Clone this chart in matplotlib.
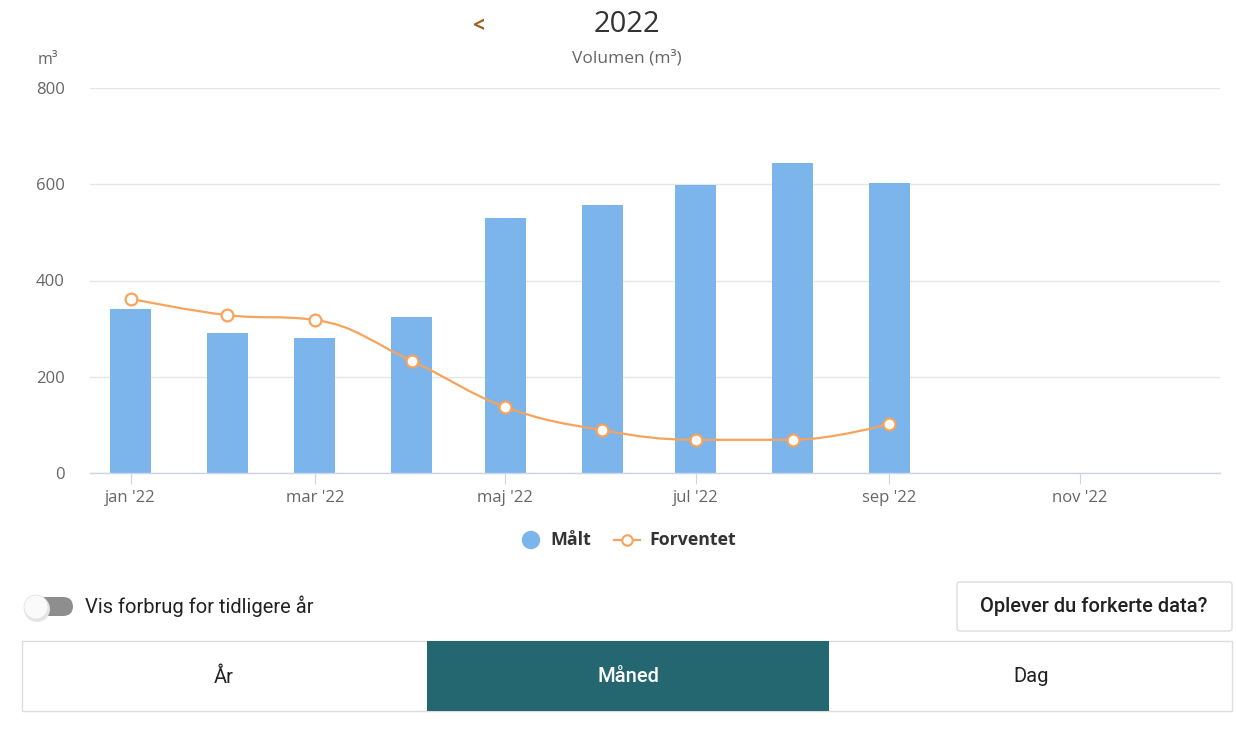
import numpy as np
import matplotlib
matplotlib.use("Agg")
import matplotlib.pyplot as plt
import matplotlib.dates as mdates
from matplotlib.path import Path
from matplotlib.patches import PathPatch, FancyBboxPatch, Rectangle, Ellipse
from matplotlib.lines import Line2D
import datetime as dt

# ---- data ----
months = ["2022-01-01", "2022-02-01", "2022-03-01", "2022-04-01", "2022-05-01",
          "2022-06-01", "2022-07-01", "2022-08-01", "2022-09-01"]
maalt = [341, 291, 281, 324, 530, 557, 599, 644, 603]
forventet = [362, 328, 318, 233, 137, 89, 69, 69, 102]
tick_dates = ["2022-01-01", "2022-03-01", "2022-05-01", "2022-07-01", "2022-09-01", "2022-11-01"]
tick_labels = ["jan '22", "mar '22", "maj '22", "jul '22", "sep '22", "nov '22"]
yticks = [0, 200, 400, 600, 800]

W, H = 1236, 733
fig = plt.figure(figsize=(W / 100, H / 100), dpi=100)
fig.patch.set_facecolor("white")

def px(x, y):
    return x / W, 1 - y / H

def circ(x, y, r, **kw):
    return Ellipse(px(x, y), 2 * r / W, 2 * r / H, transform=fig.transFigure, **kw)

ax_l, ax_r, ax_t, ax_b = 90, 1220, 88, 473
ax = fig.add_axes([ax_l / W, 1 - ax_b / H, (ax_r - ax_l) / W, (ax_b - ax_t) / H])

xd = mdates.date2num([dt.date.fromisoformat(m) for m in months])
tx = mdates.date2num([dt.date.fromisoformat(m) for m in tick_dates])

CH = "#7cb5ec"
CL = "#f7a35c"
ax.bar(xd, maalt, width=13.1, color=CH, zorder=2)

# Highcharts-style spline
def spline_path(xs, ys, smoothing=1.5):
    n = len(xs)
    denom = smoothing + 1
    right = [None] * n
    verts = [(xs[0], ys[0])]
    codes = [Path.MOVETO]
    for i in range(1, n):
        px_, py_ = xs[i], ys[i]
        lx, ly = xs[i - 1], ys[i - 1]
        lcx, lcy = px_, py_
        if i < n - 1:
            nx, ny = xs[i + 1], ys[i + 1]
            lcx = (smoothing * px_ + lx) / denom
            lcy = (smoothing * py_ + ly) / denom
            rcx = (smoothing * px_ + nx) / denom
            rcy = (smoothing * py_ + ny) / denom
            corr = 0
            if rcx != lcx:
                corr = (rcy - lcy) * (rcx - px_) / (rcx - lcx) + py_ - rcy
            lcy += corr
            rcy += corr
            if lcy > ly and lcy > py_:
                lcy = max(ly, py_); rcy = 2 * py_ - lcy
            elif lcy < ly and lcy < py_:
                lcy = min(ly, py_); rcy = 2 * py_ - lcy
            if rcy > ny and rcy > py_:
                rcy = max(ny, py_); lcy = 2 * py_ - rcy
            elif rcy < ny and rcy < py_:
                rcy = min(ny, py_); lcy = 2 * py_ - rcy
            right[i] = (rcx, rcy)
        c1 = right[i - 1] if right[i - 1] is not None else (lx, ly)
        verts += [c1, (lcx, lcy), (px_, py_)]
        codes += [Path.CURVE4] * 3
    return Path(verts, codes)

ax.add_patch(PathPatch(spline_path(list(xd), forventet), fill=False, edgecolor=CL, lw=1.6, zorder=3))
ax.plot(xd, forventet, ls="none", marker="o", ms=8.5, mfc="white", mec=CL, mew=1.6, zorder=4)

x0 = mdates.date2num(dt.date(2021, 12, 19))
ax.set_xlim(x0, x0 + (ax_r - ax_l) / 3.123)
ax.set_ylim(0, 800)
ax.set_yticks(yticks)
ax.set_yticklabels([str(v) for v in yticks])
ax.set_xticks(tx)
ax.set_xticklabels(tick_labels)
ax.grid(axis="y", color="#e6e6e6", lw=1, zorder=0)
for s in ["top", "right", "left"]:
    ax.spines[s].set_visible(False)
ax.spines["bottom"].set_color("#ccd6eb")
ax.spines["bottom"].set_linewidth(1)
ax.tick_params(axis="y", length=0, pad=18, labelsize=12, labelcolor="#666666")
ax.tick_params(axis="x", length=8, color="#ccd6eb", pad=4, labelsize=12, labelcolor="#666666")
for t in ax.get_yticklabels() + ax.get_xticklabels():
    t.set_fontfamily("Open Sans")
ax.set_axisbelow(True)

# titles
fig.text(*px(478, 27), "<", ha="center", va="center", fontsize=15, color="#a0601e", fontfamily="Open Sans", fontweight="bold")
fig.text(*px(627, 24), "2022", ha="center", va="center", fontsize=21, color="#333333", fontfamily="Open Sans")
fig.text(*px(627, 58), "Volumen (m³)", ha="center", va="center", fontsize=12.5, color="#666666", fontfamily="Open Sans")
fig.text(*px(48, 60), "m³", ha="center", va="center", fontsize=11.5, color="#666666", fontfamily="Open Sans")

# legend
fig.patches.append(circ(531, 540, 8.5, color=CH))
fig.text(*px(550, 540), "Målt", ha="left", va="center", fontsize=12.8, fontweight="bold", color="#333333", fontfamily="Open Sans")
fig.lines.append(Line2D([px(614, 0)[0], px(640, 0)[0]], [px(0, 540)[1]] * 2, transform=fig.transFigure, color=CL, lw=1.6))
fig.lines.append(Line2D([px(627, 0)[0]], [px(0, 540)[1]], transform=fig.transFigure, marker="o", ms=7.5, mfc="white", mec=CL, mew=1.5))
fig.text(*px(649, 540), "Forventet", ha="left", va="center", fontsize=12.8, fontweight="bold", color="#333333", fontfamily="Open Sans")

# toggle
tg = FancyBboxPatch(px(32, 616), 41 / W, 19 / H, boxstyle="round,pad=0,rounding_size=0.008",
                    transform=fig.transFigure, fc="#8e8e8e", ec="none", mutation_aspect=W / H)
fig.patches.append(tg)
fig.patches.append(circ(37, 609, 13, fc="#e4e4e4", ec="none"))
fig.patches.append(circ(36, 607, 12, fc="#fafafa", ec="#e2e2e2", lw=0.6))
fig.text(*px(85, 606), "Vis forbrug for tidligere år", ha="left", va="center", fontsize=14.5, color="#222222", fontfamily="Roboto")

# button
bt = FancyBboxPatch(px(957, 631), (1232 - 957) / W, (631 - 582) / H, boxstyle="round,pad=0,rounding_size=0.003",
                    transform=fig.transFigure, fc="white", ec="#dddddd", lw=1)
fig.patches.append(bt)
fig.text(*px(1094, 607), "Oplever du forkerte data?", ha="center", va="center", fontsize=14.5, fontweight="medium", color="#222222", fontfamily="Roboto")

# tabs
fig.patches.append(Rectangle(px(22, 711), (1232 - 22) / W, 70 / H, transform=fig.transFigure, fc="white", ec="#dddddd", lw=1))
fig.patches.append(Rectangle(px(427, 711), (829 - 427) / W, 70 / H, transform=fig.transFigure, fc="#246771", ec="none"))
fig.text(*px(224, 677), "År", ha="center", va="center", fontsize=14.5, color="#222222", fontfamily="Roboto")
fig.text(*px(628, 677), "Måned", ha="center", va="center", fontsize=14.5, fontweight="medium", color="white", fontfamily="Roboto")
fig.text(*px(1031, 677), "Dag", ha="center", va="center", fontsize=14.5, color="#222222", fontfamily="Roboto")

fig.savefig("out.png", dpi=100, facecolor="white")
